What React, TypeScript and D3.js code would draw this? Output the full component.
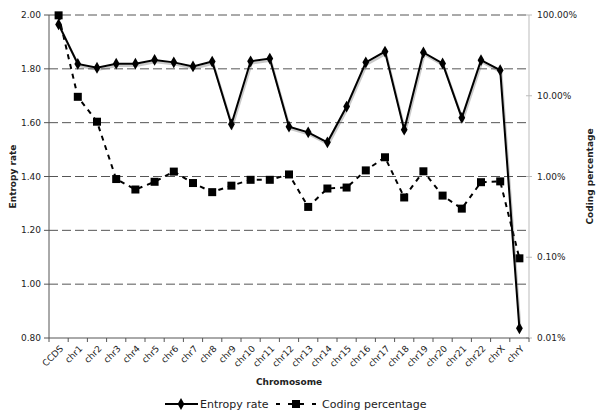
import React from "react";
import * as d3 from "d3";

const categories = ["CCDS","chr1","chr2","chr3","chr4","chr5","chr6","chr7","chr8","chr9","chr10","chr11","chr12","chr13","chr14","chr15","chr16","chr17","chr18","chr19","chr20","chr21","chr22","chrX","chrY"];
const entropyRate = [1.965,1.818,1.804,1.819,1.819,1.833,1.824,1.809,1.827,1.594,1.828,1.838,1.585,1.564,1.527,1.66,1.824,1.864,1.574,1.861,1.82,1.618,1.832,1.795,0.836];
const codingPct = [99,9.7,4.77,0.93,0.69,0.86,1.15,0.83,0.64,0.77,0.91,0.91,1.06,0.42,0.71,0.73,1.19,1.73,0.55,1.16,0.58,0.4,0.85,0.87,0.097];
const leftTicks = [0.8,1.0,1.2,1.4,1.6,1.8,2.0];
const rightTicks = [0.01,0.1,1,10,100];

const W = 600, H = 419;
const L = 49, R = 529, T = 15, B = 338;
const FONT = "DejaVu Sans, Verdana, sans-serif";

export default function App() {
  const x = d3.scaleBand<string>().domain(categories).range([L, R]);
  const xc = (c: string) => (x(c) as number) + x.bandwidth() / 2;
  const yL = d3.scaleLinear().domain([0.8, 2.0]).range([B, T]);
  const yR = d3.scaleLog().domain([0.01, 100]).range([B, T]);

  const entLine = d3.line<number>().x((_, i) => xc(categories[i])).y(d => yL(d));
  const codLine = d3.line<number>().x((_, i) => xc(categories[i])).y(d => yR(d));
  const diamond = d3.symbol().type(d3.symbolDiamond).size(40)();

  const boundaries = d3.range(categories.length + 1).map(i => L + i * x.step());

  return (
    <svg width={W} height={H} style={{ position: "absolute", left: 0, top: 0, background: "#fff" }} fontFamily={FONT}>
      {/* grid */}
      {leftTicks.filter(t => t > 0.8).map(t => (
        <line key={t} x1={L} x2={R} y1={yL(t)} y2={yL(t)} stroke="#555" strokeWidth={1} strokeDasharray="9,4" />
      ))}
      {/* left axis */}
      <line x1={L} x2={L} y1={T} y2={B} stroke="#555" />
      {leftTicks.map(t => (
        <g key={t}>
          <line x1={L - 5} x2={L} y1={yL(t)} y2={yL(t)} stroke="#555" />
          <text x={L - 8} y={yL(t)} dy="0.35em" textAnchor="end" fontSize={9} fill="#222">{t.toFixed(2)}</text>
        </g>
      ))}
      {/* right axis */}
      <line x1={R} x2={R} y1={T} y2={B} stroke="#bbb" />
      {rightTicks.map(t => (
        <g key={t}>
          <line x1={R - 3} x2={R + 3} y1={yR(t)} y2={yR(t)} stroke="#bbb" />
          <text x={R + 8} y={yR(t)} dy="0.35em" fontSize={9} fill="#222">{t.toFixed(2) + "%"}</text>
        </g>
      ))}
      {/* bottom axis */}
      <line x1={L} x2={R} y1={B} y2={B} stroke="#555" />
      {boundaries.map((b, i) => (
        <line key={i} x1={b} x2={b} y1={B} y2={B + 4} stroke="#555" />
      ))}
      {categories.map(c => (
        <text key={c} transform={`translate(${xc(c) + 3},${B + 9}) rotate(-45)`} textAnchor="end" dy="0.35em" fontSize={9} fill="#222">{c}</text>
      ))}
      {/* coding percentage */}
      <path d={codLine(codingPct) || ""} fill="none" stroke="#000" strokeWidth={2} strokeDasharray="5,5" />
      {codingPct.map((v, i) => (
        <rect key={i} x={xc(categories[i]) - 4} y={yR(v) - 4} width={8} height={8} fill="#000" />
      ))}
      {/* entropy shadow */}
      <g transform="translate(1,2)" opacity={0.35}>
        <path d={entLine(entropyRate) || ""} fill="none" stroke="#666" strokeWidth={2.5} />
      </g>
      <path d={entLine(entropyRate) || ""} fill="none" stroke="#000" strokeWidth={2} />
      {entropyRate.map((v, i) => (
        <path key={i} d={diamond || ""} transform={`translate(${xc(categories[i])},${yL(v)})`} fill="#000" />
      ))}
      {/* axis titles */}
      <text transform={`translate(16,${(T + B) / 2}) rotate(-90)`} textAnchor="middle" fontSize={9} fontWeight="bold" fill="#222">Entropy rate</text>
      <text transform={`translate(593,${(T + B) / 2}) rotate(-90)`} textAnchor="middle" fontSize={9} fontWeight="bold" fill="#222">Coding percentage</text>
      <text x={(L + R) / 2} y={385} textAnchor="middle" fontSize={9} fontWeight="bold" fill="#222">Chromosome</text>
      {/* legend */}
      <line x1={165} x2={198} y1={404} y2={404} stroke="#000" strokeWidth={2} />
      <path d={diamond || ""} transform="translate(181,404)" fill="#000" />
      <text x={200} y={404} dy="0.35em" fontSize={11} fill="#222">Entropy rate</text>
      <line x1={276} x2={316} y1={404} y2={404} stroke="#000" strokeWidth={2} strokeDasharray="4,8" />
      <rect x={292} y={400} width={8} height={8} fill="#000" />
      <text x={322} y={404} dy="0.35em" fontSize={11} fill="#222">Coding percentage</text>
    </svg>
  );
}
